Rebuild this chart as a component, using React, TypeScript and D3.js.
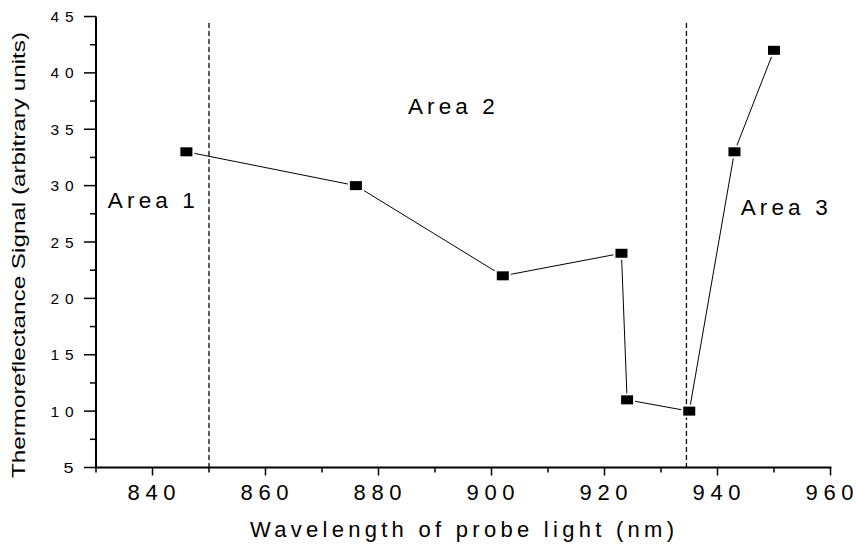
import React from "react";
import * as d3 from "d3";

// ---- data ----
const wavelengths = [846, 876, 902, 923, 924, 935, 943, 950];
const signal = [33, 30, 22, 24, 11, 10, 33, 42];
const boundaries = [850, 934.5];
const xTickLabels = [840, 860, 880, 900, 920, 940, 960];
const yTickLabels = [5, 10, 15, 20, 25, 30, 35, 40, 45];
const areaNames = ["Area 1", "Area 2", "Area 3"];
const areaAnchorX = [832.1, 885.2, 944.1];
const areaAnchorY = [28.04, 36.35, 27.4];

const W = 856;
const H = 548;
const FONT = "'Liberation Sans', Arial, Helvetica, sans-serif";

export default function App() {
  const x = d3.scaleLinear().domain([830, 960]).range([96, 830.5]);
  const y = d3.scaleLinear().domain([5, 45]).range([467.5, 16.5]);

  const pts = wavelengths.map((w, i) => [w, signal[i]] as [number, number]);
  const line = d3
    .line<[number, number]>()
    .x((d) => x(d[0]))
    .y((d) => y(d[1]));

  const xMinor = d3.range(830, 961, 10).filter((v) => v % 20 !== 0);
  const yMinor = d3.range(7.5, 45, 5);

  const x0 = x(830);
  const y0 = y(5);

  return (
    <svg
      width={W}
      height={H}
      style={{ position: "absolute", left: 0, top: 0, background: "#fff" }}
      fontFamily={FONT}
    >
      <rect x={0} y={0} width={W} height={H} fill="#fff" />

      {/* boundary dashed lines */}
      {boundaries.map((b, i) => (
        <line
          key={"b" + i}
          x1={x(b)}
          x2={x(b)}
          y1={23}
          y2={y0}
          stroke="#000"
          strokeWidth={1.3}
          strokeDasharray="5,3"
        />
      ))}

      {/* data line */}
      <path d={line(pts) || ""} fill="none" stroke="#000" strokeWidth={1} />

      {/* markers */}
      {pts.map((p, i) => (
        <g key={"m" + i}>
          <rect x={x(p[0]) - 8} y={y(p[1]) - 6.5} width={16} height={13} fill="#fff" />
          <rect x={x(p[0]) - 6} y={y(p[1]) - 4.5} width={12} height={9} fill="#000" />
        </g>
      ))}

      {/* axes */}
      <line x1={x0} x2={x0} y1={y(45)} y2={y0 + 1} stroke="#000" strokeWidth={2} />
      <line x1={x0 - 1} x2={x(960) + 1} y1={y0} y2={y0} stroke="#000" strokeWidth={2} />

      {/* y ticks */}
      {yTickLabels.map((v) => (
        <g key={"yt" + v}>
          <line x1={x0 - 12} x2={x0} y1={y(v)} y2={y(v)} stroke="#000" strokeWidth={1.5} />
          <text
            x={73.5}
            y={y(v) + 5.5}
            fontSize={15.5}
            textAnchor="end"
            textLength={String(v).length > 1 ? 23 : 10}
            lengthAdjust={String(v).length > 1 ? "spacing" : "spacingAndGlyphs"}
            fill="#000"
          >
            {v}
          </text>
        </g>
      ))}
      {yMinor.map((v) => (
        <line key={"ym" + v} x1={x0 - 6} x2={x0} y1={y(v)} y2={y(v)} stroke="#000" strokeWidth={1.5} />
      ))}

      {/* x ticks */}
      {xTickLabels.map((v) => (
        <g key={"xt" + v}>
          <line x1={x(v)} x2={x(v)} y1={y0} y2={y0 + 8} stroke="#000" strokeWidth={1.5} />
          <text
            x={x(v) - 1}
            y={500}
            fontSize={22}
            textAnchor="middle"
            textLength={48}
            lengthAdjust="spacing"
            fill="#000"
          >
            {v}
          </text>
        </g>
      ))}
      {xMinor.map((v) => (
        <line key={"xm" + v} x1={x(v)} x2={x(v)} y1={y0} y2={y0 + 5} stroke="#000" strokeWidth={1.5} />
      ))}

      {/* area labels */}
      {areaNames.map((n, i) => (
        <text
          key={n}
          x={x(areaAnchorX[i])}
          y={y(areaAnchorY[i])}
          fontSize={22.5}
          textLength={87}
          lengthAdjust="spacing"
          fill="#000"
        >
          {n}
        </text>
      ))}

      {/* axis titles */}
      <text
        x={250}
        y={537}
        fontSize={22}
        textLength={424}
        lengthAdjust="spacing"
        fill="#000"
      >
        Wavelength of probe light (nm)
      </text>
      <text
        transform="translate(25,255) rotate(-90)"
        fontSize={18}
        textAnchor="middle"
        textLength={446}
        lengthAdjust="spacingAndGlyphs"
        fill="#000"
      >
        Thermoreflectance Signal (arbitrary units)
      </text>
    </svg>
  );
}
